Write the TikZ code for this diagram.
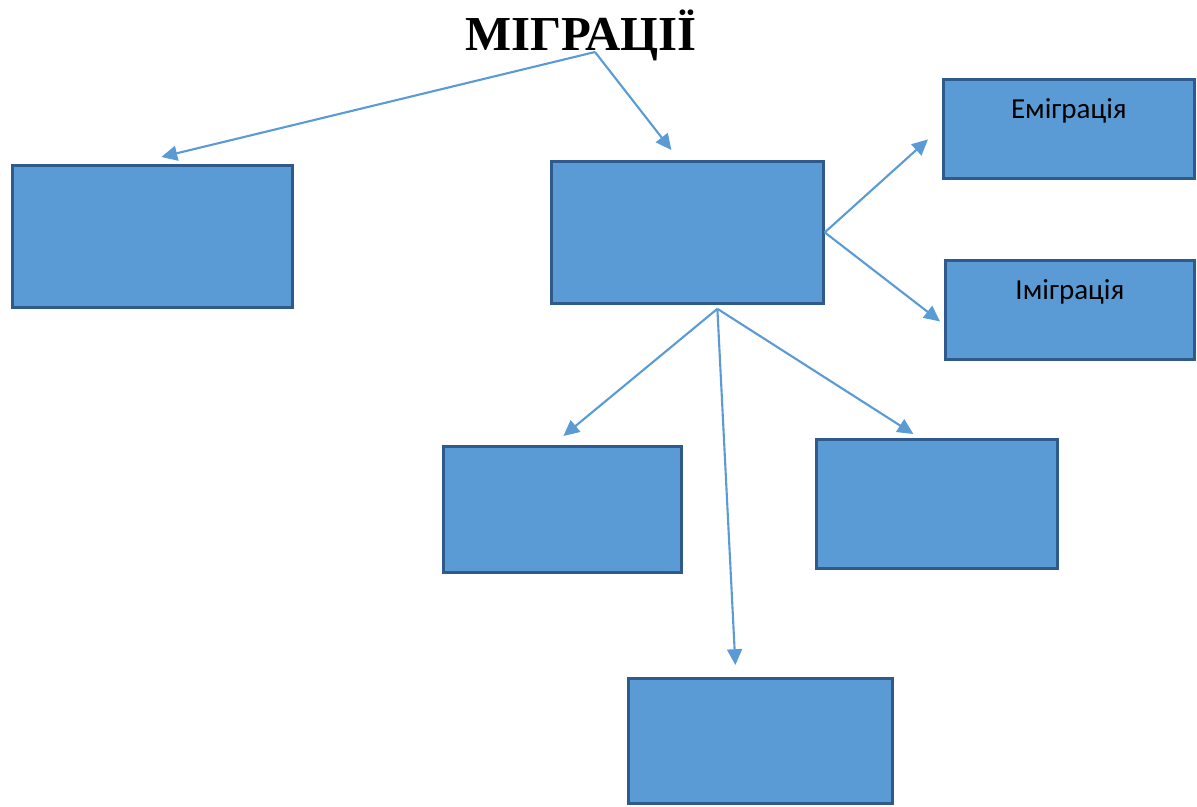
\documentclass[tikz,border=0pt]{standalone}
\usepackage{fontspec}
\setmainfont{Liberation Serif}
\newfontfamily\boxfont{Carlito}
\usetikzlibrary{arrows.meta,positioning,calc}
\definecolor{officeblue}{HTML}{5B9BD5}
\definecolor{officeedge}{HTML}{2E5B8C}
\tikzset {
        bluebox/.style={rectangle, anchor=north west, inner sep=0pt, draw=officeedge, fill=officeblue, line width=1.6pt},
        textbox/.style={bluebox, font=\boxfont\fontsize{16.5}{18}\selectfont, align=center, text height=0.78cm, text depth=1.2cm},
        link/.style={officeblue, line width=1.2pt, -{Triangle[length=9pt,width=8.5pt]}}
}
\begin{document}
\begin{tikzpicture}[x=0.02cm, y=-0.02cm]
            \useasboundingbox (0,0) rectangle (1197,806);
            \node[anchor=base, font=\bfseries\fontsize{27.8}{30}\selectfont] (Title) at (581,50) {МІГРАЦІЇ};
            \node[bluebox, minimum width=5.6cm, minimum height=2.84cm] (LeftBox) at (11,164) {};
            \node[bluebox, minimum width=5.44cm, minimum height=2.84cm] (MidBox) at (550,160) {};
            \node[textbox, text width=5.02cm, minimum height=1.98cm] (Emigration) at (942,78) {Еміграція};
            \node[textbox, text width=4.98cm, minimum height=1.98cm] (Immigration) at (944,259) {Імiграція};
            \node[bluebox, minimum width=4.76cm, minimum height=2.52cm] (LowLeftBox) at (442,445) {};
            \node[bluebox, minimum width=4.82cm, minimum height=2.58cm] (LowRightBox) at (815,438) {};
            \node[bluebox, minimum width=5.28cm, minimum height=2.5cm] (BottomBox) at (627,677) {};

            \coordinate (TitleFoot) at (595,52);
            \coordinate (MidFoot) at ($(MidBox.south)+(30,4)$);

            \draw[link] (TitleFoot) -- ($(LeftBox.north)+(9,-7)$);
            \draw[link] (TitleFoot) -- ($(MidBox.north)+(-16,-10)$);

            \draw[link] (MidBox.east) -- ($(Emigration.west)+(-14,10.5)$);
            \draw[link] (MidBox.east) -- ($(Immigration.west)+(-4,11.5)$);

            \draw[link] (MidFoot) -- ($(LowLeftBox.north)+(1,-9)$);
            \draw[link] (MidFoot) -- ($(BottomBox.north)+(-25,-12)$);
            \draw[link] (MidFoot) -- ($(LowRightBox.north)+(-23.5,-4)$);
\end{tikzpicture}
\end{document}
